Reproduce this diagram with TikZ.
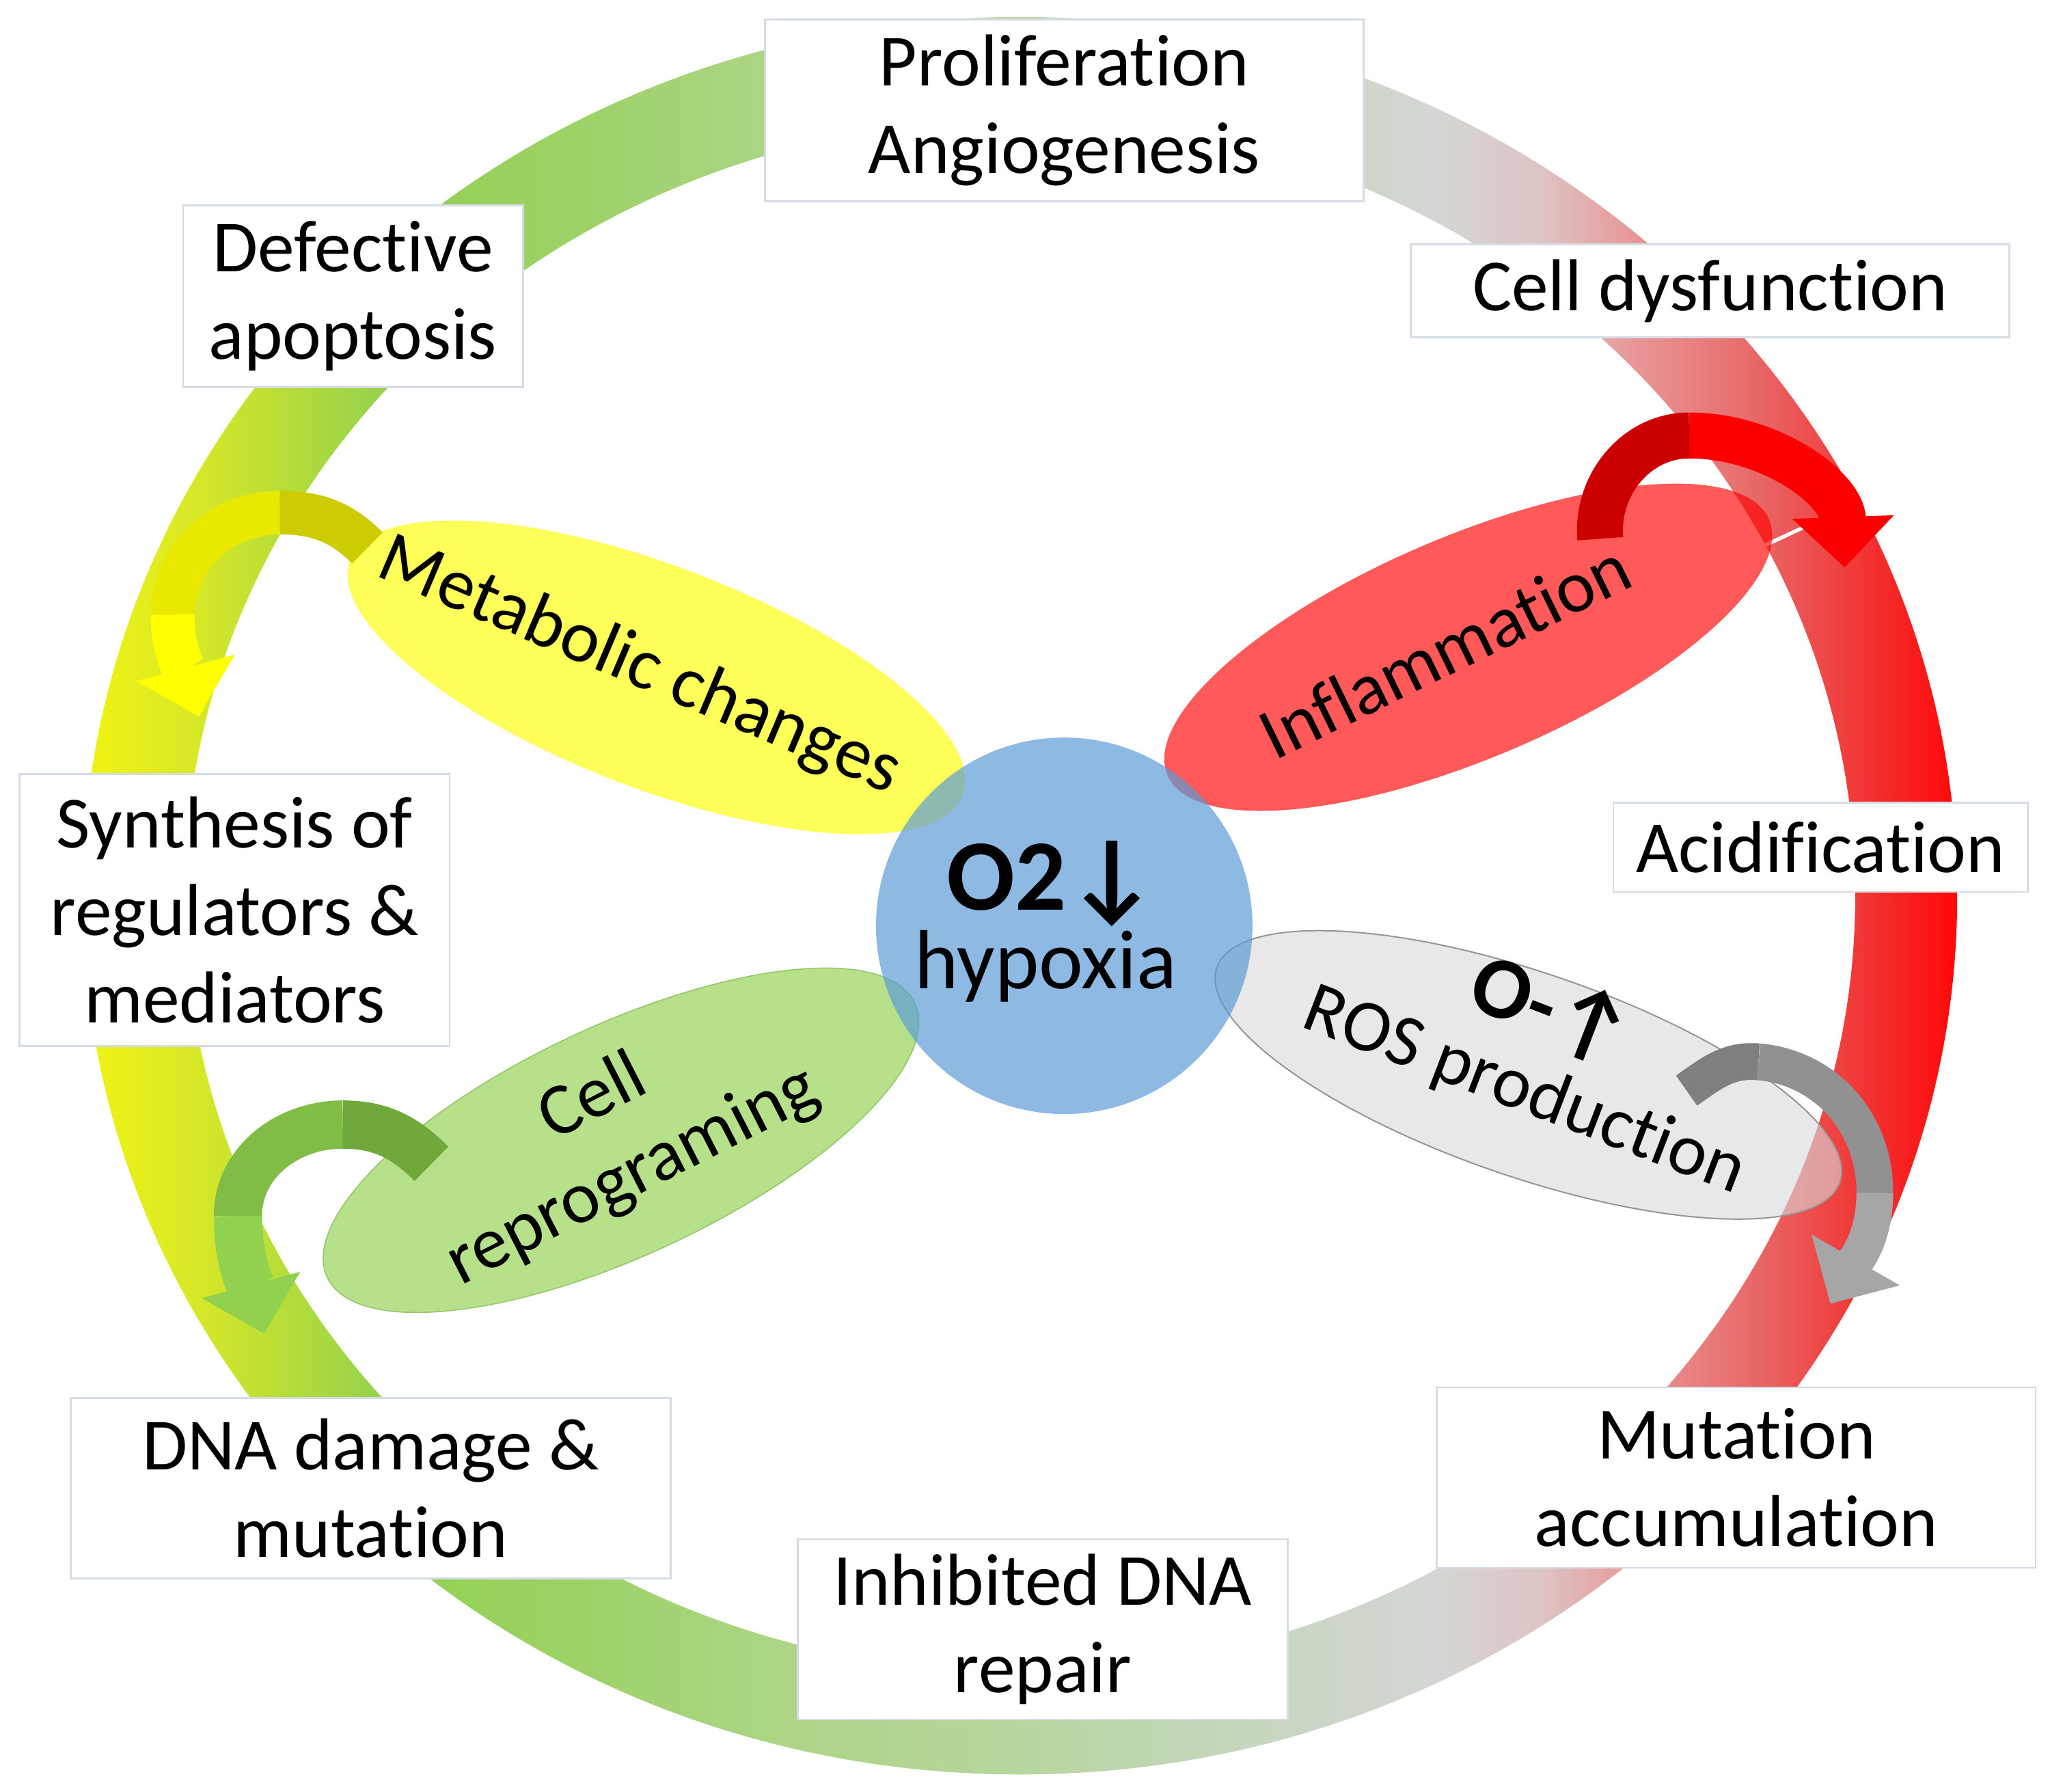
\documentclass[tikz,border=0pt]{standalone}
\usepackage{fontspec}
\setmainfont{Carlito}[Ligatures=NoCommon]
\usetikzlibrary{shapes.geometric,arrows.meta}
\definecolor{rc0}{RGB}{245,246,15}
\definecolor{rc1}{RGB}{215,232,40}
\definecolor{rc2}{RGB}{185,222,55}
\definecolor{rc3}{RGB}{146,208,80}
\definecolor{rc4}{RGB}{158,210,105}
\definecolor{rc5}{RGB}{172,213,135}
\definecolor{rc6}{RGB}{184,214,160}
\definecolor{rc7}{RGB}{198,214,190}
\definecolor{rc8}{RGB}{212,214,212}
\definecolor{rc9}{RGB}{222,196,196}
\definecolor{rc10}{RGB}{232,150,150}
\definecolor{rc11}{RGB}{232,105,105}
\definecolor{rc12}{RGB}{242,55,55}
\definecolor{rc13}{RGB}{255,0,0}
\definecolor{boxline}{RGB}{214,220,229}
\definecolor{ylw}{RGB}{255,255,0}
\definecolor{olivea}{RGB}{204,204,0}
\definecolor{oliveb}{RGB}{232,232,0}
\definecolor{grna}{RGB}{112,168,60}
\definecolor{grnb}{RGB}{128,188,70}
\definecolor{grnc}{RGB}{146,208,80}
\definecolor{reda}{RGB}{204,0,0}
\definecolor{redb}{RGB}{250,0,0}
\definecolor{grya}{RGB}{127,127,127}
\definecolor{gryb}{RGB}{145,145,145}
\definecolor{gryc}{RGB}{166,166,166}
\definecolor{hypblue}{RGB}{91,155,213}
\definecolor{ellgray}{RGB}{217,217,217}
\definecolor{ellgrayline}{RGB}{150,150,150}
\definecolor{ellgreenline}{RGB}{150,200,110}
\newcommand\lblfont{\fontsize{32}{38}\selectfont}
\tikzset{
  lbl/.style={draw=boxline, line width=0.8pt, fill=white, inner sep=0pt, align=center, font=\lblfont},
  petal/.style={ellipse, inner sep=0pt},
  ptext/.style={font=\lblfont, inner sep=0pt, align=center},
  headbig/.style={-{Triangle[length=22pt,width=43pt]}},
}
\begin{document}
\begin{tikzpicture}[x=0.02cm,y=0.02cm]
\useasboundingbox (0,0) rectangle (1568,-1370);
\fill[white] (0,0) rectangle (1568,-1370);

% ring with horizontal colour gradient
\begin{scope}
\clip (780,-685) ++(717,0) arc[start angle=0,end angle=360,x radius=717,y radius=672]
  -- ++(-78,0) arc[start angle=360,end angle=0,x radius=639,y radius=594] -- cycle;
\foreach \xa/\xb/\ca/\cb in {50/150/rc0/rc1,150/210/rc1/rc2,210/300/rc2/rc3,300/450/rc3/rc4,450/600/rc4/rc5,600/780/rc5/rc6,780/950/rc6/rc7,950/1100/rc7/rc8,1100/1180/rc8/rc9,1180/1250/rc9/rc10,1250/1340/rc10/rc11,1340/1420/rc11/rc12,1420/1510/rc12/rc13}
  {\shade[left color=\ca, right color=\cb] (\xa,10) rectangle (\xb+1,-1380);}
\end{scope}
\coordinate (gapA) at (1350,-417);
\coordinate (gapB) at (1421,-384);
\draw[white, line width=1.6pt] (gapA) -- (gapB);

% boxes
\node[lbl, minimum width=9.16cm, minimum height=2.78cm] (prolif) at (814,-84.5) {Proliferation\\Angiogenesis};
\node[lbl, minimum width=5.2cm, minimum height=2.78cm] (defect) at (270,-226.5) {Defective\\apoptosis};
\node[lbl, minimum width=9.16cm, minimum height=1.42cm] (celldys) at (1308,-222.5) {Cell dysfunction};
\node[lbl, minimum width=6.34cm, minimum height=1.36cm] (acid) at (1392.5,-648) {Acidification};
\node[lbl, minimum width=6.58cm, minimum height=4.16cm] (synth) at (179.5,-696) {Synthesis of\\regulators \&\\mediators};
\node[lbl, minimum width=9.18cm, minimum height=2.76cm] (dna) at (283.5,-1138) {DNA damage \&\\mutation};
\node[lbl, minimum width=7.5cm, minimum height=2.76cm] (inhib) at (797.5,-1246) {Inhibited DNA\\repair};
\node[lbl, minimum width=9.16cm, minimum height=2.76cm] (mutacc) at (1328,-1130) {Mutation\\accumulation};

% petals
\node[petal, minimum width=10.04cm, minimum height=3.4cm, rotate=-21, fill=ylw, fill opacity=0.65] (emeta) at (502,-518) {};
\node[petal, minimum width=10.0cm, minimum height=3.4cm, rotate=23, fill=red, fill opacity=0.65] (einfl) at (1123,-495) {};
\node[petal, minimum width=9.92cm, minimum height=3.52cm, rotate=25, fill=grnc, fill opacity=0.66, draw=ellgreenline, line width=0.5pt] (ecell) at (475,-872) {};
\node[petal, minimum width=10.08cm, minimum height=3.12cm, rotate=-19, fill=ellgray, fill opacity=0.6, draw=ellgrayline, line width=0.6pt] (eros) at (1169,-822) {};

% centre circle
\node[circle, inner sep=0pt, minimum size=5.76cm, fill=hypblue, fill opacity=0.69] (hyp) at (814,-708) {};
\node[anchor=base, inner sep=0pt, font=\fontsize{44}{44}\selectfont\bfseries] (otwo) at (805,-696) {O2↓};
\node[anchor=base, inner sep=0pt, font=\fontsize{36.5}{40}\selectfont] (hypo) at (800,-756) {hypoxia};

% petal labels
\node[ptext, rotate=-23] (tmeta) at (489,-510) {Metabolic changes};
\node[ptext, rotate=26] (tinfl) at (1105,-497) {Inflammation};
\node[ptext, rotate=27] (tcell) at (469,-870) {Cell\\reprograming};
\node[ptext, rotate=-21] (tros) at (1166,-835) {ROS production};
\node[ptext, rotate=-21, font=\fontsize{38}{40}\selectfont\bfseries] (tox) at (1187,-772) {O-↑};

% curved arrows
\coordinate (yT) at (281,-419);
\coordinate (yM) at (214,-392);
\coordinate (yL) at (132,-470);
\coordinate (yH) at (152,-548);
\draw[olivea, line width=19pt] (yT) to[out=135,in=0] (yM);
\draw[oliveb, line width=19pt] (yM) to[out=180,in=90] (yL);
\draw[ylw, line width=19pt, headbig] (yL) to[out=-90,in=105] (yH);

\coordinate (gT) at (330,-890);
\coordinate (gM) at (262,-860);
\coordinate (gL) at (182,-930);
\coordinate (gH) at (202,-1020);
\draw[grna, line width=21pt] (gT) to[out=135,in=0] (gM);
\draw[grnb, line width=21pt] (gM) to[out=180,in=90] (gL);
\draw[grnc, line width=21pt, headbig] (gL) to[out=-90,in=105] (gH);

\coordinate (rT) at (1224,-412);
\coordinate (rM) at (1292,-333);
\coordinate (rH) at (1411,-434);
\draw[reda, line width=20pt] (rT) to[out=95,in=180] (rM);
\draw[redb, line width=20pt, headbig] (rM) to[out=0,in=92] (rH);

\coordinate (sT) at (1290,-834);
\coordinate (sM) at (1345,-812);
\coordinate (sR) at (1434,-912);
\coordinate (sH) at (1400,-997);
\draw[grya, line width=16pt] (sT) to[out=35,in=175] (sM);
\draw[gryb, line width=16pt] (sM) to[out=-5,in=90] (sR);
\draw[gryc, line width=16pt, headbig] (sR) to[out=-90,in=60] (sH);
\end{tikzpicture}
\end{document}
